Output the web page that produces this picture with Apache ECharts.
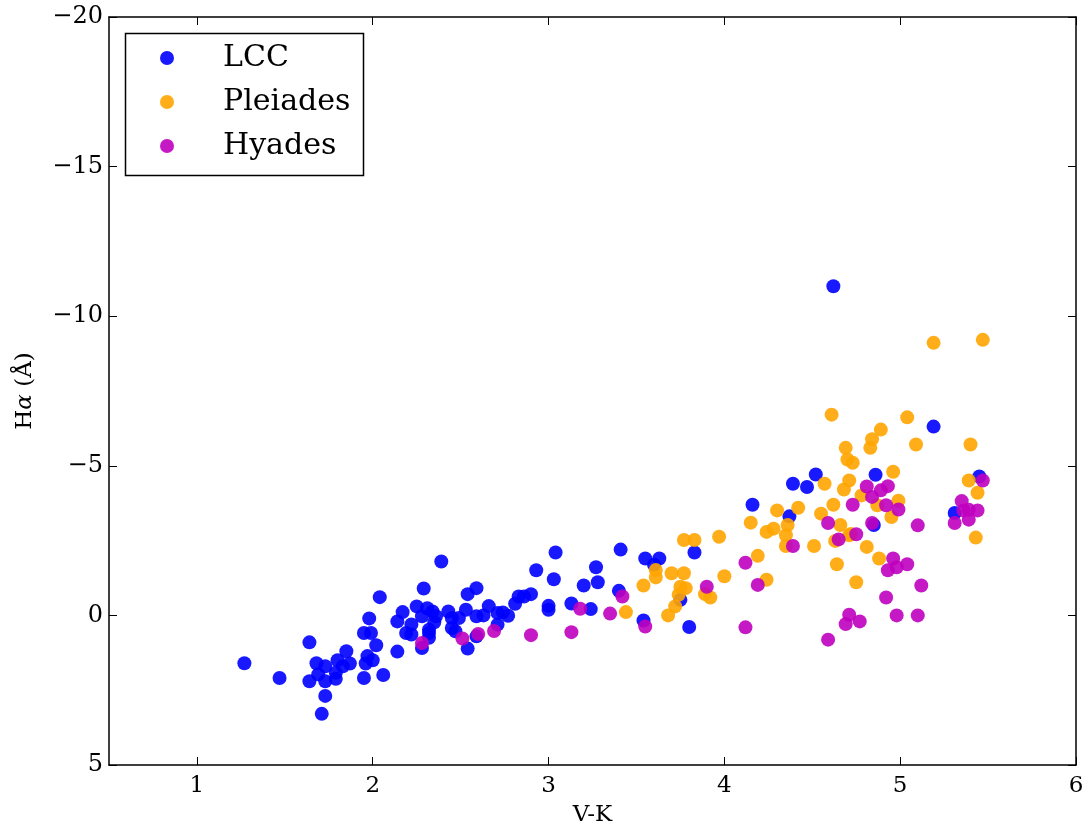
<!DOCTYPE html>
<html>
<head>
<meta charset="utf-8">
<script src="https://cdn.jsdelivr.net/npm/echarts@6/dist/echarts.min.js"></script>
<style>
html,body{margin:0;padding:0;background:#fff;}
#chart{width:1089px;height:832px;}
</style>
</head>
<body>
<div id="chart"></div>
<script>
// V-K colour and H-alpha equivalent width
const lccVK = [1.27,1.47,1.64,1.64,1.68,1.73,1.69,1.73,1.73,1.71,1.80,1.85,1.83,1.79,1.79,1.87,1.95,1.96,1.97,2.00,2.02,1.95,1.99,1.98,2.04,2.06,2.14,2.14,2.17,2.19,2.22,2.22,2.25,2.28,2.29,2.28,2.32,2.32,2.32,2.31,2.34,2.36,2.35,2.39,2.43,2.45,2.45,2.47,2.49,2.53,2.54,2.54,2.59,2.59,2.59,2.66,2.63,2.71,2.71,2.74,2.77,2.81,2.83,2.86,2.90,2.93,3.04,3.03,3.00,3.00,3.13,3.20,3.27,3.28,3.24,3.41,3.40,3.55,3.63,3.60,3.83,3.54,3.80,3.75,4.16,4.37,4.39,4.47,4.52,4.62,4.86,4.85,5.19,5.31,5.45];
const lccHa = [1.60,2.09,0.90,2.20,1.60,1.70,1.97,2.20,2.69,3.29,1.50,1.20,1.70,1.92,2.12,1.61,2.09,1.61,1.36,1.50,1.00,0.59,0.59,0.10,-0.61,1.99,1.21,0.20,-0.11,0.59,0.64,0.30,-0.30,0.03,-0.90,1.09,0.75,0.48,0.59,-0.24,-0.13,0.03,0.23,-1.80,-0.13,0.09,0.42,0.53,0.09,-0.19,-0.71,1.11,-0.91,0.03,0.70,-0.31,0.00,0.31,-0.08,-0.10,0.01,-0.39,-0.63,-0.63,-0.71,-1.51,-2.10,-1.21,-0.32,-0.19,-0.40,-1.00,-1.61,-1.11,-0.21,-2.20,-0.82,-1.90,-1.90,-1.69,-2.10,0.17,0.39,-0.52,-3.70,-3.31,-4.40,-4.29,-4.71,-11.0,-4.70,-3.02,-6.31,-3.42,-4.64];

const pleVK = [3.44,3.54,3.61,3.61,3.70,3.77,3.75,3.78,3.74,3.72,3.68,3.77,3.83,3.89,3.92,3.97,4.00,4.15,4.19,4.24,4.24,4.28,4.30,4.35,4.36,4.35,4.42,4.51,4.55,4.57,4.61,4.62,4.63,4.64,4.66,4.68,4.69,4.70,4.71,4.71,4.73,4.72,4.75,4.78,4.81,4.83,4.84,4.89,4.88,4.87,4.95,4.96,4.99,5.04,5.09,5.19,5.40,5.39,5.44,5.43,5.47];
const pleHa = [-0.11,-1.00,-1.52,-1.27,-1.41,-1.41,-0.96,-0.91,-0.69,-0.30,0.00,-2.52,-2.52,-0.71,-0.60,-2.63,-1.31,-3.10,-1.99,-1.19,-2.79,-2.90,-3.51,-2.68,-3.02,-2.32,-3.60,-2.32,-3.40,-4.40,-6.71,-3.70,-2.49,-1.71,-3.02,-4.21,-5.60,-5.21,-4.51,-2.68,-5.10,-2.72,-1.11,-4.01,-2.29,-5.60,-5.89,-6.21,-1.90,-3.68,-3.29,-4.80,-3.83,-6.62,-5.71,-9.11,-5.71,-4.51,-4.10,-2.60,-9.21];

const hyaVK = [2.28,2.51,2.60,2.69,2.90,3.13,3.18,3.35,3.42,3.55,3.90,4.12,4.12,4.19,4.39,4.59,4.59,4.65,4.69,4.71,4.73,4.75,4.77,4.81,4.84,4.84,4.89,4.93,4.92,4.92,4.93,4.96,4.98,4.98,4.99,5.04,5.10,5.10,5.12,5.31,5.35,5.36,5.39,5.44,5.39,5.47];
const hyaHa = [0.92,0.77,0.62,0.52,0.66,0.56,-0.22,-0.06,-0.63,0.37,-0.96,-1.76,0.40,-1.02,-2.32,-3.09,0.81,-2.54,0.29,-0.02,-3.70,-2.71,0.20,-4.31,-3.96,-3.09,-4.18,-4.32,-3.68,-0.60,-1.51,-1.90,0.00,-1.61,-3.54,-1.71,0.00,-3.01,-1.00,-3.09,-3.82,-3.51,-3.53,-3.51,-3.20,-4.51];

const seriesNames = ['LCC','Pleiades','Hyades'];
const xTicks = [1,2,3,4,5,6];
const xLabel = 'V-K';

function pairs(xs, ys){ return xs.map((x,i)=>[x, ys[i]]); }
const minusFmt = v => String(v).replace('-', '\u2212');
const FONT = 'DejaVu Serif';

const chart = echarts.init(document.getElementById('chart'), null, {renderer:'canvas'});
const xCommon = {type:'value', min:0.5, max:6, splitLine:{show:false},
  axisLine:{show:true, onZero:false, lineStyle:{color:'#000', width:1.5}}};
const yCommon = {type:'value', min:-20, max:5, interval:5, inverse:true, splitLine:{show:false},
  axisLine:{show:true, onZero:false, lineStyle:{color:'#000', width:1.5}}};

chart.setOption({
  animation:false,
  backgroundColor:'#fff',
  grid:{left:109, right:13, top:17, bottom:63, containLabel:false},
  xAxis:[
    Object.assign({}, xCommon, {position:'bottom',
      axisTick:{show:true, inside:true, length:8, customValues:xTicks, lineStyle:{color:'#000', width:1}},
      axisLabel:{show:true, customValues:xTicks, margin:10, color:'#000', fontFamily:FONT, fontSize:23},
      name:xLabel, nameLocation:'middle', nameGap:39, nameTextStyle:{color:'#000', fontFamily:FONT, fontSize:23}}),
    Object.assign({}, xCommon, {position:'top',
      axisTick:{show:true, inside:true, length:8, customValues:xTicks, lineStyle:{color:'#000', width:1}},
      axisLabel:{show:false}})
  ],
  yAxis:[
    Object.assign({}, yCommon, {position:'left',
      axisTick:{show:true, inside:true, length:8, lineStyle:{color:'#000', width:1}},
      axisLabel:{show:true, margin:6, color:'#000', fontFamily:FONT, fontSize:24, formatter:minusFmt},
      name:'H{a|\u03b1} (\u00c5)', nameLocation:'middle', nameGap:72, nameRotate:90,
      nameTextStyle:{color:'#000', fontFamily:FONT, fontSize:23,
        rich:{a:{fontFamily:FONT, fontStyle:'italic', fontSize:23, color:'#000'}}}}),
    Object.assign({}, yCommon, {position:'right',
      axisTick:{show:true, inside:true, length:8, lineStyle:{color:'#000', width:1}},
      axisLabel:{show:false}})
  ],
  legend:{
    orient:'vertical', left:160, top:43, padding:0, itemGap:14,
    itemWidth:14, itemHeight:14, icon:'circle',
    data:seriesNames,
    textStyle:{color:'#000', fontFamily:FONT, fontSize:30, lineHeight:30, padding:[0,0,0,44]}
  },
  graphic:[{type:'rect', left:123, top:31, shape:{width:238, height:142},
    style:{fill:null, stroke:'#000', lineWidth:1.5}, z:100, silent:true}],
  series:[
    {name:seriesNames[0], type:'scatter', symbolSize:14, data:pairs(lccVK, lccHa),
      itemStyle:{color:'#0000ff', opacity:0.9}},
    {name:seriesNames[1], type:'scatter', symbolSize:14, data:pairs(pleVK, pleHa),
      itemStyle:{color:'#ffa500', opacity:0.9}},
    {name:seriesNames[2], type:'scatter', symbolSize:14, data:pairs(hyaVK, hyaHa),
      itemStyle:{color:'#bf00bf', opacity:0.9}}
  ]
});
</script>
</body>
</html>
